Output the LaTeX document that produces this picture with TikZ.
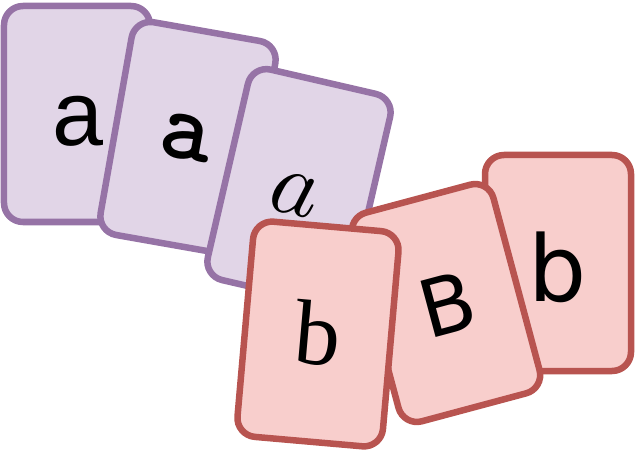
\documentclass[tikz,border=0pt]{standalone}
\usepackage{fontspec}
\usepackage{unicode-math}
\usetikzlibrary{shadows}
\newfontfamily\cardsans{Liberation Sans}
\newfontfamily\cardserif{Liberation Serif}
\newfontfamily\cardround{DejaVu Sans}
\definecolor{cardlilac}{RGB}{225,213,231}
\definecolor{cardpurple}{RGB}{150,115,166}
\definecolor{cardpink}{RGB}{248,206,204}
\definecolor{cardred}{RGB}{184,84,80}
\tikzset{
  card/.style={rectangle, rounded corners=19bp, line width=6.5bp, minimum width=146bp, minimum height=216bp, inner sep=0pt, drop shadow={shadow xshift=2bp, shadow yshift=-2bp, opacity=0.25}},
  purplecard/.style={card, draw=cardpurple, fill=cardlilac},
  redcard/.style={card, draw=cardred, fill=cardpink},
  cardletter/.style={inner sep=0pt, font=\fontsize{92}{96}\selectfont},
}

\begin{document}
\begin{tikzpicture}[x=1bp, y=-1bp]
  \useasboundingbox (0,0) rectangle (637,457);
  \node[purplecard] (card1) at (77,114) {};
  \node[cardletter] (let1) at (78,121) {\cardsans a};
  \node[purplecard, rotate=-10] (card2) at (188,138) {};
  \node[cardletter, rotate=-10, font=\fontsize{100}{104}\selectfont] (let2) at (186,138) {\ttfamily\bfseries a};
  \node[purplecard, rotate=-13] (card3) at (299,187) {};
  \node[cardletter, rotate=-13] (let3) at (295,195) {$a$};
  \node[redcard] (card6) at (558,263) {};
  \node[cardletter] (let6) at (558,267) {\cardround b};
  \node[redcard, rotate=15] (card5) at (446,303) {};
  \node[cardletter, rotate=15, font=\fontsize{80}{84}\selectfont] (let5) at (447,304) {\cardround B};
  \node[redcard, rotate=-5] (card4) at (318,334) {};
  \node[cardletter, rotate=-5] (let4) at (318,333) {\cardserif b};
\end{tikzpicture}
\end{document}
